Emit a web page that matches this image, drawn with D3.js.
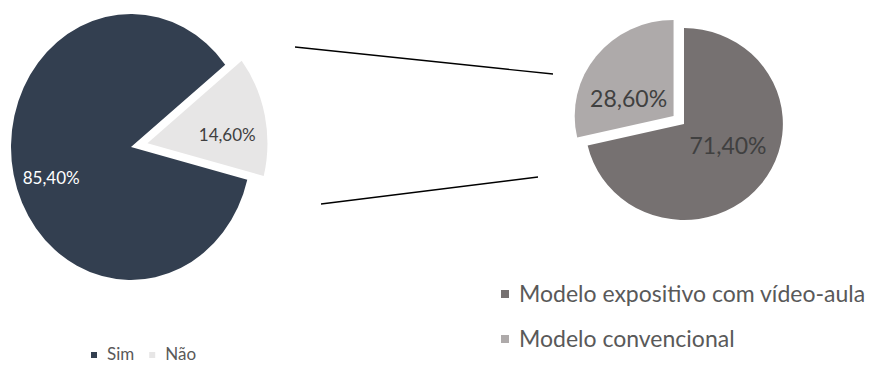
<!DOCTYPE html>
<html>
<head>
<meta charset="utf-8">
<script src="https://cdn.jsdelivr.net/npm/d3@7"></script>
<style>
  body { margin: 0; background: #fff; }
  text { font-family: Lato, "Open Sans", sans-serif; }
</style>
</head>
<body>
<div id="chart"></div>
<script>
// left pie: sim / não
const mainLabels = ['Sim', 'Não'];
const mainValues = [85.4, 14.6];
const mainColors = ['#333f50', '#e7e6e6'];

// right pie: breakdown
const subLabels = ['Modelo expositivo com vídeo-aula', 'Modelo convencional'];
const subValues = [71.4, 28.6];
const subColors = ['#767171', '#aeaaaa'];

const width = 872;
const height = 365;
const deg = Math.PI / 180;

const fmt = (v) => `${v.toFixed(2).replace('.', ',')}%`;

const svg = d3.select('#chart')
  .append('svg')
  .attr('width', width)
  .attr('height', height);

// draws one pie; explode = fraction of radius per slice
const drawPie = (opts) => {
  const {
    values, colors, cx, cy, r, sx, sy, start, explode, labelR, labelColors, fontSize, nudge,
  } = opts;
  const pie = d3.pie().sort(null).startAngle(start).endAngle(start + 2 * Math.PI);
  const arcs = pie(values);
  const arc = d3.arc().innerRadius(0).outerRadius(r);
  const g = svg.append('g').attr('transform', `translate(${cx},${cy})`);

  const offset = (d, i) => {
    const mid = (d.startAngle + d.endAngle) / 2;
    const k = explode[i] * r;
    return [Math.sin(mid) * k, -Math.cos(mid) * k];
  };

  g.selectAll('path')
    .data(arcs)
    .enter()
    .append('path')
    .attr('transform', (d, i) => {
      const [ox, oy] = offset(d, i);
      return `scale(${sx},${sy}) translate(${ox},${oy})`;
    })
    .attr('d', arc)
    .attr('fill', (d, i) => colors[i]);

  g.selectAll('text')
    .data(arcs)
    .enter()
    .append('text')
    .attr('x', (d, i) => {
      const mid = (d.startAngle + d.endAngle) / 2;
      const [ox] = offset(d, i);
      return (ox + Math.sin(mid) * r * labelR) * sx + nudge[i][0];
    })
    .attr('y', (d, i) => {
      const mid = (d.startAngle + d.endAngle) / 2;
      const [, oy] = offset(d, i);
      return (oy - Math.cos(mid) * r * labelR) * sy + nudge[i][1];
    })
    .attr('dy', '0.36em')
    .attr('text-anchor', 'middle')
    .attr('font-size', fontSize)
    .attr('fill', (d, i) => labelColors[i])
    .text((d) => fmt(d.data));
};

drawPie({
  values: mainValues,
  colors: mainColors,
  cx: 131,
  cy: 147,
  r: 133,
  sx: 120 / 133,
  sy: 1,
  start: 104.3 * deg,
  explode: [0, 0.14],
  labelR: 0.68,
  labelColors: ['#ffffff', '#404040'],
  fontSize: 17,
  nudge: [[0, 12], [0, 11]],
});

drawPie({
  values: subValues,
  colors: subColors,
  cx: 684,
  cy: 124,
  r: 96,
  sx: 1.03,
  sy: 1,
  start: 0,
  explode: [0, 0.135],
  labelR: 0.53,
  labelColors: ['#404040', '#404040'],
  fontSize: 23,
  nudge: [[3, -10], [-4, 14]],
});

// connector lines between the two pies
const connectors = [
  [[295, 47], [553, 74]],
  [[321, 204], [538, 177]],
];
svg.selectAll('line.conn')
  .data(connectors)
  .enter()
  .append('line')
  .attr('class', 'conn')
  .attr('x1', (d) => d[0][0])
  .attr('y1', (d) => d[0][1])
  .attr('x2', (d) => d[1][0])
  .attr('y2', (d) => d[1][1])
  .attr('stroke', '#000')
  .attr('stroke-width', 1.3);

// legend for left pie (horizontal)
const legMain = svg.append('g').attr('transform', 'translate(91,360)');
let lx = 0;
mainLabels.forEach((lab, i) => {
  legMain.append('rect')
    .attr('x', lx)
    .attr('y', -8)
    .attr('width', 6)
    .attr('height', 6)
    .attr('fill', mainColors[i]);
  const t = legMain.append('text')
    .attr('x', lx + 16)
    .attr('y', 0)
    .attr('font-size', 17)
    .attr('fill', '#595959')
    .text(lab);
  lx += 16 + t.node().getComputedTextLength() + 15;
});

// legend for right pie (vertical)
const legSub = svg.append('g').attr('transform', 'translate(501,302)');
subLabels.forEach((lab, i) => {
  legSub.append('rect')
    .attr('x', 0)
    .attr('y', i * 45 - 12)
    .attr('width', 8)
    .attr('height', 8)
    .attr('fill', subColors[i]);
  legSub.append('text')
    .attr('x', 18)
    .attr('y', i * 45)
    .attr('font-size', 23)
    .attr('fill', '#595959')
    .text(lab);
});
</script>
</body>
</html>
